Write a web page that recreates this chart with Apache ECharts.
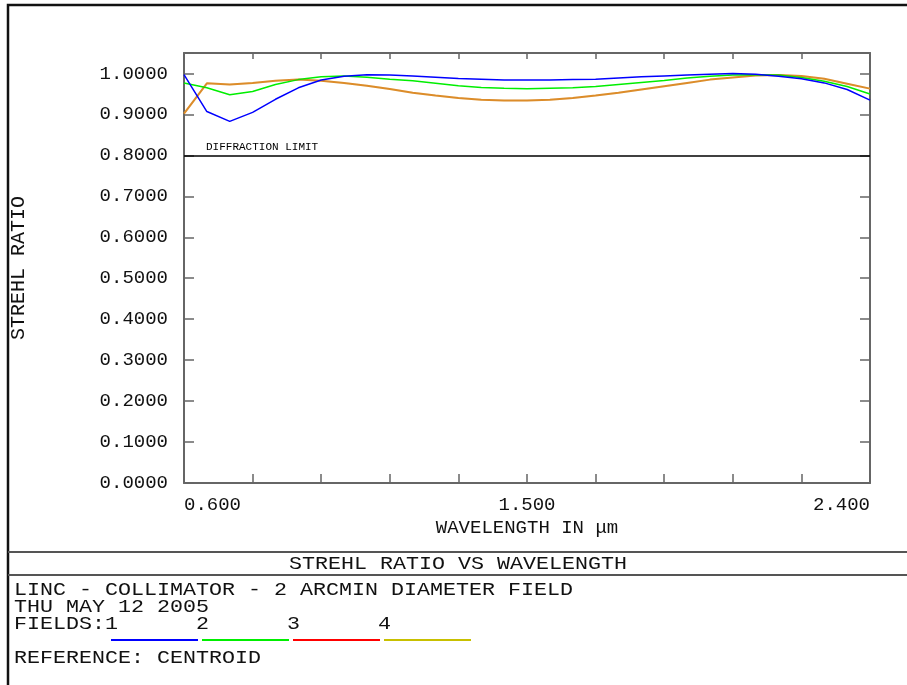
<!DOCTYPE html>
<html>
<head>
<meta charset="utf-8">
<script src="https://cdn.jsdelivr.net/npm/echarts@6/dist/echarts.min.js"></script>
<style>
html, body { margin: 0; padding: 0; background: #fff; }
#strehlChart { width: 907px; height: 685px; }
</style>
</head>
<body>
<div id="strehlChart"></div>
<script>
// wavelengths in micrometres, sampled as in the plot
var wavelengths = [0.60, 0.66, 0.72, 0.78, 0.84, 0.90, 0.96, 1.02, 1.08, 1.14,
    1.20, 1.26, 1.32, 1.38, 1.44, 1.50, 1.56, 1.62, 1.68, 1.74,
    1.80, 1.86, 1.92, 1.98, 2.04, 2.10, 2.16, 2.22, 2.28, 2.34, 2.40];
var field1 = [0.997, 0.907, 0.883, 0.905, 0.937, 0.965, 0.984, 0.993, 0.997, 0.996,
    0.994, 0.991, 0.988, 0.986, 0.984, 0.984, 0.984, 0.985, 0.986, 0.989,
    0.992, 0.994, 0.996, 0.998, 1.000, 0.998, 0.993, 0.987, 0.977, 0.961, 0.935];
var field2 = [0.977, 0.965, 0.948, 0.956, 0.973, 0.985, 0.992, 0.994, 0.991, 0.986,
    0.982, 0.976, 0.970, 0.966, 0.964, 0.963, 0.964, 0.965, 0.968, 0.973,
    0.978, 0.983, 0.989, 0.993, 0.996, 0.997, 0.996, 0.990, 0.981, 0.968, 0.950];
var field3 = [0.902, 0.976, 0.973, 0.977, 0.982, 0.985, 0.982, 0.977, 0.970, 0.962,
    0.953, 0.946, 0.940, 0.936, 0.934, 0.934, 0.936, 0.940, 0.946, 0.953,
    0.961, 0.969, 0.977, 0.985, 0.990, 0.995, 0.996, 0.994, 0.987, 0.975, 0.963];
var field4 = [0.902, 0.976, 0.973, 0.977, 0.982, 0.985, 0.982, 0.977, 0.970, 0.962,
    0.953, 0.946, 0.940, 0.936, 0.934, 0.934, 0.936, 0.940, 0.946, 0.953,
    0.961, 0.969, 0.977, 0.985, 0.990, 0.995, 0.996, 0.994, 0.987, 0.975, 0.963];
var fieldNames = ['1', '2', '3', '4'];
var fieldColors = ['#0000ff', '#00ee00', '#ff0000', '#c8c000'];
var xTickLabels = ['0.600', '1.500', '2.400'];
var diffractionLimit = 0.8;

var monoFont = "'Liberation Mono', 'DejaVu Sans Mono', monospace";
var axisGrey = '#666666';

function pairs(values) {
    return wavelengths.map(function (w, i) { return [w, values[i]]; });
}

var strehlChart = echarts.init(document.getElementById('strehlChart'));

function infoText(text, x, y, align) {
    return {
        type: 'text',
        x: x,
        y: y,
        scaleX: 1.14,
        style: {
            text: text,
            font: '19px ' + monoFont,
            fill: '#111',
            textAlign: align || 'left',
            textVerticalAlign: 'middle'
        }
    };
}

var option = {
    backgroundColor: '#fff',
    animation: false,
    grid: { left: 184, top: 53, right: 37, bottom: 202 },
    legend: {
        left: 111,
        top: 639,
        padding: 0,
        icon: 'rect',
        itemWidth: 87,
        itemHeight: 2,
        itemGap: 4,
        selectedMode: false,
        formatter: function () { return ''; },
        data: fieldNames.map(function (n, i) {
            return { name: n, itemStyle: { color: fieldColors[i], opacity: 1 } };
        })
    },
    xAxis: [{
        type: 'value',
        position: 'bottom',
        min: 0.6,
        max: 2.4,
        interval: 0.18,
        name: 'WAVELENGTH IN μm',
        nameLocation: 'middle',
        nameGap: 32,
        nameTextStyle: { fontFamily: monoFont, fontSize: 19, color: '#111' },
        axisLine: { onZero: false, lineStyle: { color: axisGrey, width: 2 } },
        axisTick: { inside: true, length: 9, lineStyle: { color: axisGrey, width: 1.5 } },
        splitLine: { show: false },
        axisLabel: {
            margin: 12,
            fontFamily: monoFont,
            fontSize: 19,
            color: '#111',
            alignMinLabel: 'left',
            alignMaxLabel: 'right',
            formatter: function (v) {
                var s = v.toFixed(3);
                return xTickLabels.indexOf(s) >= 0 ? s : '';
            }
        }
    }, {
        type: 'value',
        position: 'top',
        min: 0.6,
        max: 2.4,
        interval: 0.18,
        axisLine: { onZero: false, lineStyle: { color: axisGrey, width: 2 } },
        axisTick: { inside: true, length: 6, lineStyle: { color: axisGrey, width: 1.5 } },
        axisLabel: { show: false },
        splitLine: { show: false }
    }],
    yAxis: [{
        type: 'value',
        position: 'left',
        min: 0,
        max: 1.05,
        interval: 0.1,
        name: 'STREHL RATIO',
        nameLocation: 'middle',
        nameGap: 155,
        nameTextStyle: { fontFamily: monoFont, fontSize: 20, color: '#111' },
        axisLine: { onZero: false, lineStyle: { color: axisGrey, width: 2 } },
        axisTick: { inside: true, length: 10, lineStyle: { color: axisGrey, width: 1.5 } },
        splitLine: { show: false },
        axisLabel: {
            margin: 16,
            fontFamily: monoFont,
            fontSize: 19,
            color: '#111',
            formatter: function (v) { return v > 1.0001 ? '' : v.toFixed(4); }
        }
    }, {
        type: 'value',
        position: 'right',
        min: 0,
        max: 1.05,
        interval: 0.1,
        axisLine: { onZero: false, lineStyle: { color: axisGrey, width: 2 } },
        axisTick: { inside: true, length: 10, lineStyle: { color: axisGrey, width: 1.5 } },
        axisLabel: { show: false },
        splitLine: { show: false }
    }],
    series: [{
        name: fieldNames[0],
        type: 'line',
        data: pairs(field1),
        showSymbol: false,
        z: 4,
        lineStyle: { color: fieldColors[0], width: 1.5 },
        itemStyle: { color: fieldColors[0] },
        markLine: {
            silent: true,
            symbol: 'none',
            lineStyle: { color: '#000', width: 1.5, type: 'solid' },
            label: {
                position: 'insideStartTop',
                padding: [0, 0, 0, 19],
                distance: 3,
                fontFamily: monoFont,
                fontSize: 11,
                color: '#000',
                formatter: 'DIFFRACTION LIMIT'
            },
            data: [{ yAxis: diffractionLimit }]
        }
    }, {
        name: fieldNames[1],
        type: 'line',
        data: pairs(field2),
        showSymbol: false,
        z: 3,
        lineStyle: { color: fieldColors[1], width: 1.5 },
        itemStyle: { color: fieldColors[1] }
    }, {
        name: fieldNames[2],
        type: 'line',
        data: pairs(field3),
        showSymbol: false,
        z: 3,
        lineStyle: { color: fieldColors[2], width: 2, opacity: 0.12 },
        itemStyle: { color: fieldColors[2] }
    }, {
        name: fieldNames[3],
        type: 'line',
        data: pairs(field4),
        showSymbol: false,
        z: 2,
        lineStyle: { color: '#d8a030', width: 2 },
        itemStyle: { color: fieldColors[3] }
    }],
    graphic: [
        { type: 'rect', shape: { x: 8, y: 5, width: 1000, height: 1000 },
          style: { fill: 'none', stroke: '#111', lineWidth: 2.5 } },
        { type: 'line', shape: { x1: 8, y1: 552, x2: 907, y2: 552 },
          style: { stroke: '#555', lineWidth: 2 } },
        { type: 'line', shape: { x1: 8, y1: 575, x2: 907, y2: 575 },
          style: { stroke: '#555', lineWidth: 2 } },
        infoText('STREHL RATIO VS WAVELENGTH', 458, 564, 'center'),
        infoText('LINC - COLLIMATOR - 2 ARCMIN DIAMETER FIELD', 14, 590),
        infoText('THU MAY 12 2005', 14, 607),
        infoText('FIELDS:1      2      3      4', 14, 624),
        infoText('REFERENCE: CENTROID', 14, 658)
    ]
};

strehlChart.setOption(option);
</script>
</body>
</html>
